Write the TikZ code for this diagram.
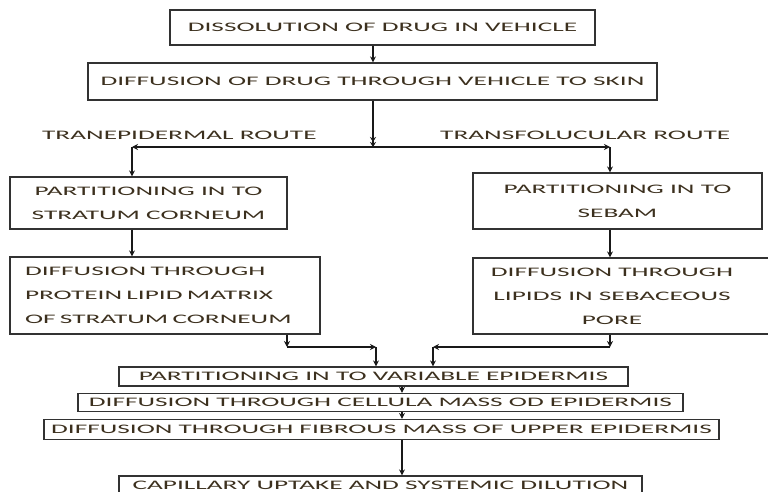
\documentclass[tikz,border=0pt]{standalone}
\usepackage{fontspec}
\setmainfont{Carlito}
\newfontfamily\wfont[FakeStretch=2.1]{Carlito}
\usetikzlibrary{arrows.meta}
\definecolor{txt}{RGB}{60,48,30}
\definecolor{edgec}{RGB}{50,50,50}
\definecolor{linec}{RGB}{25,25,25}
\begin{document}
\begin{tikzpicture}[x=1pt,y=-1pt,
  box/.style={draw=edgec, line width=1.2pt, inner sep=0pt, font=\wfont\fontsize{13}{24}\selectfont, text=txt, align=center},
  boxtext/.style={inner sep=0pt, font=\wfont\fontsize{13}{24}\selectfont, text=txt, align=center},
  lbl/.style={inner sep=0pt, font=\wfont\fontsize{13}{24}\selectfont, text=txt, anchor=west},
  arr/.style={draw=linec, line width=1.2pt, -{Stealth[length=6pt,width=6pt]}},
  darr/.style={draw=linec, line width=1.2pt, -{Stealth[length=5pt,width=6pt]Stealth[length=5pt,width=6pt]}}]
\useasboundingbox (0,0) rectangle (768,492);
\fill[white] (0,0) rectangle (768,492);

\node[box, minimum width=425pt, minimum height=35pt] (b1) at (382.5,27.5) {DISSOLUTION OF DRUG IN VEHICLE};
\node[box, minimum width=569pt, minimum height=37pt] (b2) at (372.5,81.5) {DIFFUSION OF DRUG THROUGH VEHICLE TO SKIN};

\node[lbl] (l1) at (42,135) {TRANEPIDERMAL ROUTE};
\node[lbl] (l2) at (440,135) {TRANSFOLUCULAR ROUTE};

\node[box, minimum width=277pt, minimum height=52pt] (b3) at (148.5,203) {PARTITIONING IN TO\\STRATUM CORNEUM};
\node[box, minimum width=289pt, minimum height=56pt] (b4) at (617.5,201) {PARTITIONING IN TO\\SEBAM};

\node[box, minimum width=310pt, minimum height=77pt, text width=280pt, align=left] (b5) at (165,295.5) {DIFFUSION THROUGH\\PROTEIN LIPID MATRIX\\OF STRATUM CORNEUM};
\node[box, minimum width=302pt, minimum height=76pt] (b6) at (624,296) {};
\node[boxtext] (t6) at (612,296) {DIFFUSION THROUGH\\LIPIDS IN SEBACEOUS\\PORE};

\node[box, minimum width=509pt, minimum height=19pt] (b7) at (373.5,376.5) {PARTITIONING IN TO VARIABLE EPIDERMIS};
\node[box, minimum width=605pt, minimum height=18pt] (b8) at (380.5,402.5) {DIFFUSION THROUGH CELLULA MASS OD EPIDERMIS};
\node[box, minimum width=675pt, minimum height=20pt] (b9) at (381.5,429.5) {DIFFUSION THROUGH FIBROUS MASS OF UPPER EPIDERMIS};
\node[box, minimum width=523pt, minimum height=18pt, text depth=0pt] (b10) at (380.5,485) {CAPILLARY UPTAKE AND SYSTEMIC DILUTION};

\coordinate (j) at (373,147);
\coordinate (jl) at (132,147);
\coordinate (jr) at (610,147);
\coordinate (ml) at (287,347);
\coordinate (mlc) at (376,347);
\coordinate (mr) at (610,347);
\coordinate (mrc) at (433,347);
\coordinate (ax) at (402,0);

\draw[arr] (b1.south -| j) -- (b2.north -| j);
\draw[darr] (b2.south -| j) -- (j);
\draw[arr] (j) -- (jl);
\draw[arr] (j) -- (jr);
\draw[arr] (jl) -- (jl |- b3.north);
\draw[arr] (jr) -- (jr |- b4.north);
\draw[arr] (b3.south -| jl) -- (b5.north -| jl);
\draw[arr] (b4.south -| jr) -- (b6.north -| jr);
\draw[arr] (b5.south -| ml) -- (ml);
\draw[arr] (ml) -- (mlc);
\draw[arr] (mlc) -- (mlc |- b7.north);
\draw[arr] (b6.south -| mr) -- (mr);
\draw[arr] (mr) -- (mrc);
\draw[arr] (mrc) -- (mrc |- b7.north);
\draw[arr] (b7.south -| ax) -- (b8.north -| ax);
\draw[arr] (b8.south -| ax) -- (b9.north -| ax);
\draw[arr] (b9.south -| ax) -- (b10.north -| ax);
\end{tikzpicture}
\end{document}
